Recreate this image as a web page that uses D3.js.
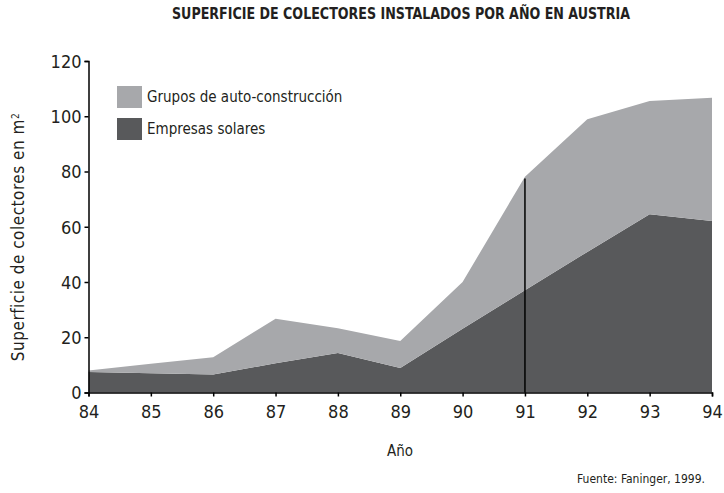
<!DOCTYPE html>
<html>
<head>
<meta charset="utf-8">
<script src="https://cdn.jsdelivr.net/npm/d3@7"></script>
<style>
  html, body { margin: 0; padding: 0; background: #fff; }
  svg { display: block; }
  text { font-family: "DejaVu Sans Condensed", "DejaVu Sans", sans-serif; font-stretch: condensed; fill: #231f20; }
</style>
</head>
<body>
<svg id="chart" width="724" height="493"></svg>
<script>
const years = [84, 85, 86, 87, 88, 89, 90, 91, 92, 93, 94];
const empresas = [7.4, 7.0, 6.5, 10.6, 14.3, 8.9, 23.1, 37.0, 50.9, 64.5, 62.1];
const grupos = [0.6, 3.4, 6.3, 16.1, 9.0, 9.7, 16.9, 41.1, 48.0, 41.0, 44.6];
const yTicks = [0, 20, 40, 60, 80, 100, 120];
const seriesNames = ["Empresas solares", "Grupos de auto-construcción"];
const seriesColors = ["#58595b", "#a7a8ab"];
const markerYear = 91;
const markerValue = 77.5;
const title = "SUPERFICIE DE COLECTORES INSTALADOS POR AÑO EN AUSTRIA";
const source = "Fuente: Faninger, 1999.";

const svg = d3.select("#chart");
const x = d3.scaleLinear().domain([84, 94]).range([88.5, 712]);
const y = d3.scaleLinear().domain([0, 120]).range([392.5, 61]);

const table = years.map((yr, i) => ({ year: yr, empresas: empresas[i], grupos: grupos[i] }));
const stack = d3.stack().keys(["empresas", "grupos"]);
const layers = stack(table);

const area = d3.area()
  .x(d => x(d.data.year))
  .y0(d => y(d[0]))
  .y1(d => y(d[1]));

svg.append("g").selectAll("path").data(layers).join("path")
  .attr("d", area)
  .attr("fill", (d, i) => seriesColors[i]);

// marker line
svg.append("line")
  .attr("x1", x(markerYear)).attr("x2", x(markerYear))
  .attr("y1", y(0)).attr("y2", y(markerValue))
  .attr("stroke", "#000").attr("stroke-width", 1.5);

// axes
const xAxis = svg.append("g").attr("transform", `translate(0,${y(0)})`)
  .call(d3.axisBottom(x).tickValues(years).tickFormat(d3.format("d")).tickSizeOuter(0).tickSize(4).tickPadding(9));
const yAxis = svg.append("g").attr("transform", `translate(${x(84)},0)`)
  .call(d3.axisLeft(y).tickValues(yTicks).tickSizeOuter(0).tickSize(4).tickPadding(3));
[xAxis, yAxis].forEach(g => {
  g.select(".domain").attr("stroke", "#000").attr("stroke-width", 1.5);
  g.selectAll(".tick line").attr("stroke", "#000").attr("stroke-width", 1.5);
  g.selectAll(".tick text").style("font-size", "18px").attr("fill", "#231f20")
    .style("font-family", '"DejaVu Sans Condensed", "DejaVu Sans", sans-serif');
});
yAxis.selectAll(".tick text").attr("dy", "0.36em");

// title
svg.append("text").attr("x", 401).attr("y", 19).attr("text-anchor", "middle")
  .style("font-size", "15px").style("font-weight", "bold")
  .attr("textLength", 458).attr("lengthAdjust", "spacingAndGlyphs")
  .text(title);

// legend
const legendItems = [1, 0];
const lg = svg.append("g");
legendItems.forEach((si, k) => {
  const ly = 86 + k * 32;
  lg.append("rect").attr("x", 117).attr("y", ly).attr("width", 25).attr("height", 22).attr("fill", seriesColors[si]);
  lg.append("text").attr("x", 147).attr("y", ly + 16).style("font-size", "15px").text(seriesNames[si]);
});

// axis titles
svg.append("text").attr("x", 400).attr("y", 456).attr("text-anchor", "middle").style("font-size", "15px").text("Año");
const yl = svg.append("text").attr("transform", "translate(24,237) rotate(-90)").attr("text-anchor", "middle")
  .style("font-size", "17px").style("letter-spacing", "0.5px");
yl.append("tspan").text("Superficie de colectores en m");
yl.append("tspan").attr("dy", "-0.55em").style("font-size", "10px").text("2");

svg.append("text").attr("x", 705).attr("y", 483).attr("text-anchor", "end").style("font-size", "12px").text(source);
</script>
</body>
</html>
